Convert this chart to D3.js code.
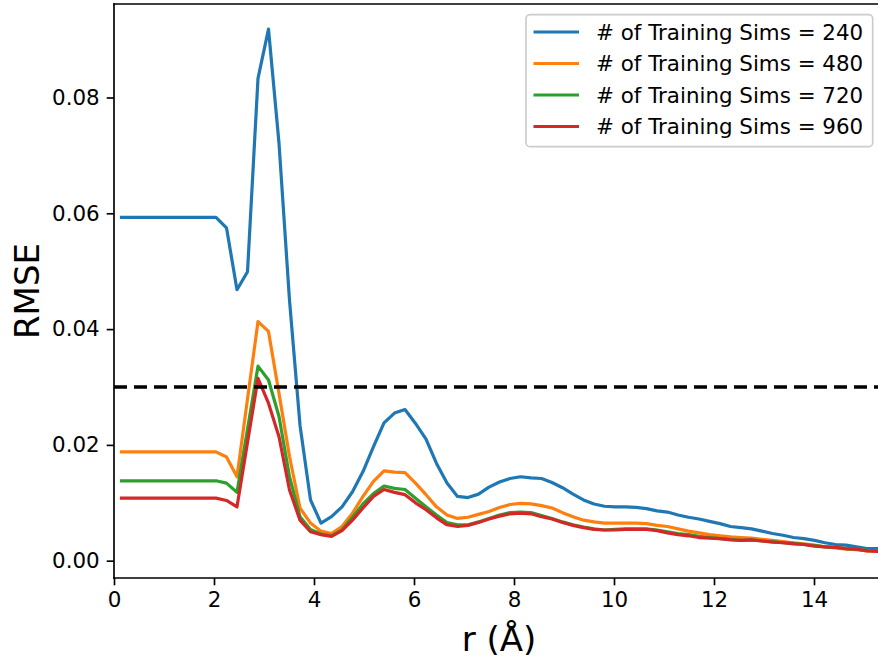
<!DOCTYPE html>
<html>
<head>
<meta charset="utf-8">
<script src="https://d3js.org/d3.v7.min.js"></script>
<style>
  html, body { margin: 0; padding: 0; background: #fff; }
  svg { display: block; font-family: "DejaVu Sans", sans-serif; }
</style>
</head>
<body>
<svg id="chart" width="878" height="660"></svg>
<script>
const rValues = [0.15,0.36,0.57,0.78,0.99,1.20,1.41,1.62,1.83,2.04,2.25,2.46,2.67,2.88,3.09,3.30,3.51,3.72,3.93,4.14,4.35,4.56,4.77,4.98,5.19,5.40,5.61,5.82,6.03,6.24,6.45,6.66,6.87,7.08,7.29,7.50,7.71,7.92,8.13,8.34,8.55,8.76,8.97,9.18,9.39,9.60,9.81,10.02,10.23,10.44,10.65,10.86,11.07,11.28,11.49,11.70,11.91,12.12,12.33,12.54,12.75,12.96,13.17,13.38,13.59,13.80,14.01,14.22,14.43,14.64,14.85,15.06,15.27];

const rmse240 = [0.0593,0.0593,0.0593,0.0593,0.0593,0.0593,0.0593,0.0593,0.0593,0.0593,0.0575,0.0468,0.0499,0.0833,0.0918,0.0721,0.0450,0.0234,0.0105,0.0065,0.0076,0.0093,0.0119,0.0154,0.0197,0.0238,0.0255,0.0261,0.0237,0.0210,0.0168,0.0134,0.0111,0.0109,0.0115,0.0127,0.0136,0.0142,0.0145,0.0143,0.0142,0.0135,0.0126,0.0115,0.0105,0.0098,0.0094,0.0093,0.0093,0.0092,0.0090,0.0086,0.0084,0.0079,0.0075,0.0072,0.0068,0.0064,0.0059,0.0057,0.0055,0.0051,0.0047,0.0044,0.0040,0.0038,0.0035,0.0031,0.0028,0.0027,0.0024,0.0021,0.0021];

const rmse480 = [0.0188,0.0188,0.0188,0.0188,0.0188,0.0188,0.0188,0.0188,0.0188,0.0188,0.0179,0.0145,0.0279,0.0413,0.0396,0.0289,0.0180,0.0091,0.0065,0.0051,0.0047,0.0059,0.0082,0.0111,0.0137,0.0155,0.0153,0.0152,0.0134,0.0114,0.0093,0.0079,0.0073,0.0075,0.0080,0.0085,0.0092,0.0097,0.0099,0.0098,0.0095,0.0091,0.0083,0.0076,0.0070,0.0067,0.0065,0.0065,0.0065,0.0065,0.0064,0.0061,0.0059,0.0055,0.0051,0.0048,0.0045,0.0043,0.0041,0.0040,0.0039,0.0037,0.0035,0.0033,0.0031,0.0029,0.0027,0.0024,0.0022,0.0020,0.0019,0.0017,0.0017];

const rmse720 = [0.0138,0.0138,0.0138,0.0138,0.0138,0.0138,0.0138,0.0138,0.0138,0.0138,0.0134,0.0118,0.0227,0.0336,0.0312,0.0249,0.0145,0.0076,0.0054,0.0046,0.0043,0.0053,0.0075,0.0098,0.0116,0.0129,0.0125,0.0123,0.0108,0.0093,0.0079,0.0066,0.0062,0.0062,0.0067,0.0073,0.0079,0.0083,0.0084,0.0083,0.0078,0.0073,0.0067,0.0062,0.0058,0.0055,0.0053,0.0054,0.0055,0.0055,0.0055,0.0053,0.0050,0.0047,0.0045,0.0042,0.0040,0.0038,0.0037,0.0035,0.0036,0.0034,0.0033,0.0031,0.0030,0.0028,0.0026,0.0024,0.0023,0.0021,0.0020,0.0018,0.0017];

const rmse960 = [0.0108,0.0108,0.0108,0.0108,0.0108,0.0108,0.0108,0.0108,0.0108,0.0108,0.0104,0.0093,0.0204,0.0315,0.0272,0.0214,0.0122,0.0070,0.0050,0.0045,0.0042,0.0052,0.0070,0.0091,0.0111,0.0123,0.0118,0.0114,0.0100,0.0088,0.0074,0.0062,0.0059,0.0061,0.0066,0.0072,0.0077,0.0081,0.0082,0.0081,0.0076,0.0072,0.0066,0.0061,0.0057,0.0054,0.0053,0.0053,0.0054,0.0054,0.0054,0.0052,0.0048,0.0045,0.0043,0.0040,0.0039,0.0038,0.0036,0.0035,0.0036,0.0034,0.0032,0.0031,0.0029,0.0028,0.0025,0.0024,0.0023,0.0021,0.0020,0.0017,0.0016];

const seriesNames = ["# of Training Sims = 240","# of Training Sims = 480","# of Training Sims = 720","# of Training Sims = 960"];
const seriesColors = ["#1f77b4","#ff7f0e","#2ca02c","#d62728"];
const seriesValues = [rmse240, rmse480, rmse720, rmse960];
const threshold = 0.03;
const xTicks = [0,2,4,6,8,10,12,14];
const yTicks = [0.00,0.02,0.04,0.06,0.08];
const xLabel = "r (Å)";
const yLabel = "RMSE";

const svg = d3.select("#chart");
const pLeft = 114, pRight = 884, pTop = 4, pBottom = 578;
const x = d3.scaleLinear().domain([0, 15.4]).range([pLeft, pRight]);
const y = d3.scaleLinear().domain([-0.00299, 0.09615]).range([pBottom, pTop]);

svg.append("defs").append("clipPath").attr("id","clip")
  .append("rect").attr("x",pLeft).attr("y",pTop).attr("width",pRight-pLeft).attr("height",pBottom-pTop);

const plot = svg.append("g").attr("clip-path","url(#clip)");
const line = d3.line().x(d => x(d[0])).y(d => y(d[1]));

seriesValues.forEach((vals, k) => {
  plot.append("path")
    .datum(rValues.map((r, i) => [r, vals[i]]))
    .attr("d", line)
    .attr("fill","none")
    .attr("stroke", seriesColors[k])
    .attr("stroke-width", 3.2)
    .attr("stroke-linejoin","round")
    .attr("stroke-linecap","square");
});

plot.append("line")
  .attr("x1", pLeft).attr("x2", pRight)
  .attr("y1", y(threshold)).attr("y2", y(threshold))
  .attr("stroke","#000").attr("stroke-width",3.4)
  .attr("stroke-dasharray","13,7");

// axes
const xAxis = d3.axisBottom(x).tickValues(xTicks).tickFormat(d3.format("d")).tickSize(7.3).tickPadding(7);
const yAxis = d3.axisLeft(y).tickValues(yTicks).tickFormat(d3.format(".2f")).tickSize(7.3).tickPadding(7);

const gx = svg.append("g").attr("transform",`translate(0,${pBottom})`).call(xAxis);
const gy = svg.append("g").attr("transform",`translate(${pLeft},0)`).call(yAxis);
[gx, gy].forEach(g => {
  g.select(".domain").remove();
  g.selectAll(".tick line").attr("stroke","#000").attr("stroke-width",1.67);
  g.selectAll(".tick text").attr("fill","#000").attr("font-size","21.4px").attr("font-family","DejaVu Sans");
});

// spines
svg.append("line").attr("x1",pLeft).attr("x2",pLeft).attr("y1",pTop).attr("y2",pBottom)
  .attr("stroke","#000").attr("stroke-width",1.67).attr("stroke-linecap","square");
svg.append("line").attr("x1",pLeft).attr("x2",pRight).attr("y1",pBottom).attr("y2",pBottom)
  .attr("stroke","#000").attr("stroke-width",1.67).attr("stroke-linecap","square");
svg.append("line").attr("x1",pLeft).attr("x2",pRight).attr("y1",pTop).attr("y2",pTop)
  .attr("stroke","#000").attr("stroke-width",1.67).attr("stroke-linecap","square");
svg.append("line").attr("x1",pRight).attr("x2",pRight).attr("y1",pTop).attr("y2",pBottom)
  .attr("stroke","#000").attr("stroke-width",1.67);

// axis labels
svg.append("text").attr("x",(pLeft+pRight)/2).attr("y",651)
  .attr("text-anchor","middle").attr("font-size","34px").attr("fill","#000").text(xLabel);
svg.append("text").attr("transform",`translate(39,${(pTop+pBottom)/2}) rotate(-90)`)
  .attr("text-anchor","middle").attr("font-size","34px").attr("fill","#000").text(yLabel);

// legend
const lg = svg.append("g");
lg.append("rect").attr("x",526).attr("y",14.7).attr("width",346.7).attr("height",132)
  .attr("rx",4).attr("ry",4).attr("fill","#fff").attr("fill-opacity",0.8)
  .attr("stroke","#cccccc").attr("stroke-width",1.67);
const rowY = [32, 63.5, 95, 126.5];
seriesNames.forEach((name, k) => {
  lg.append("line").attr("x1",533.5).attr("x2",579).attr("y1",rowY[k]).attr("y2",rowY[k])
    .attr("stroke",seriesColors[k]).attr("stroke-width",3.2);
  lg.append("text").attr("x",596).attr("y",rowY[k]).attr("dy","0.36em")
    .attr("font-size","21.4px").attr("fill","#000").text(name);
});
</script>
</body>
</html>
